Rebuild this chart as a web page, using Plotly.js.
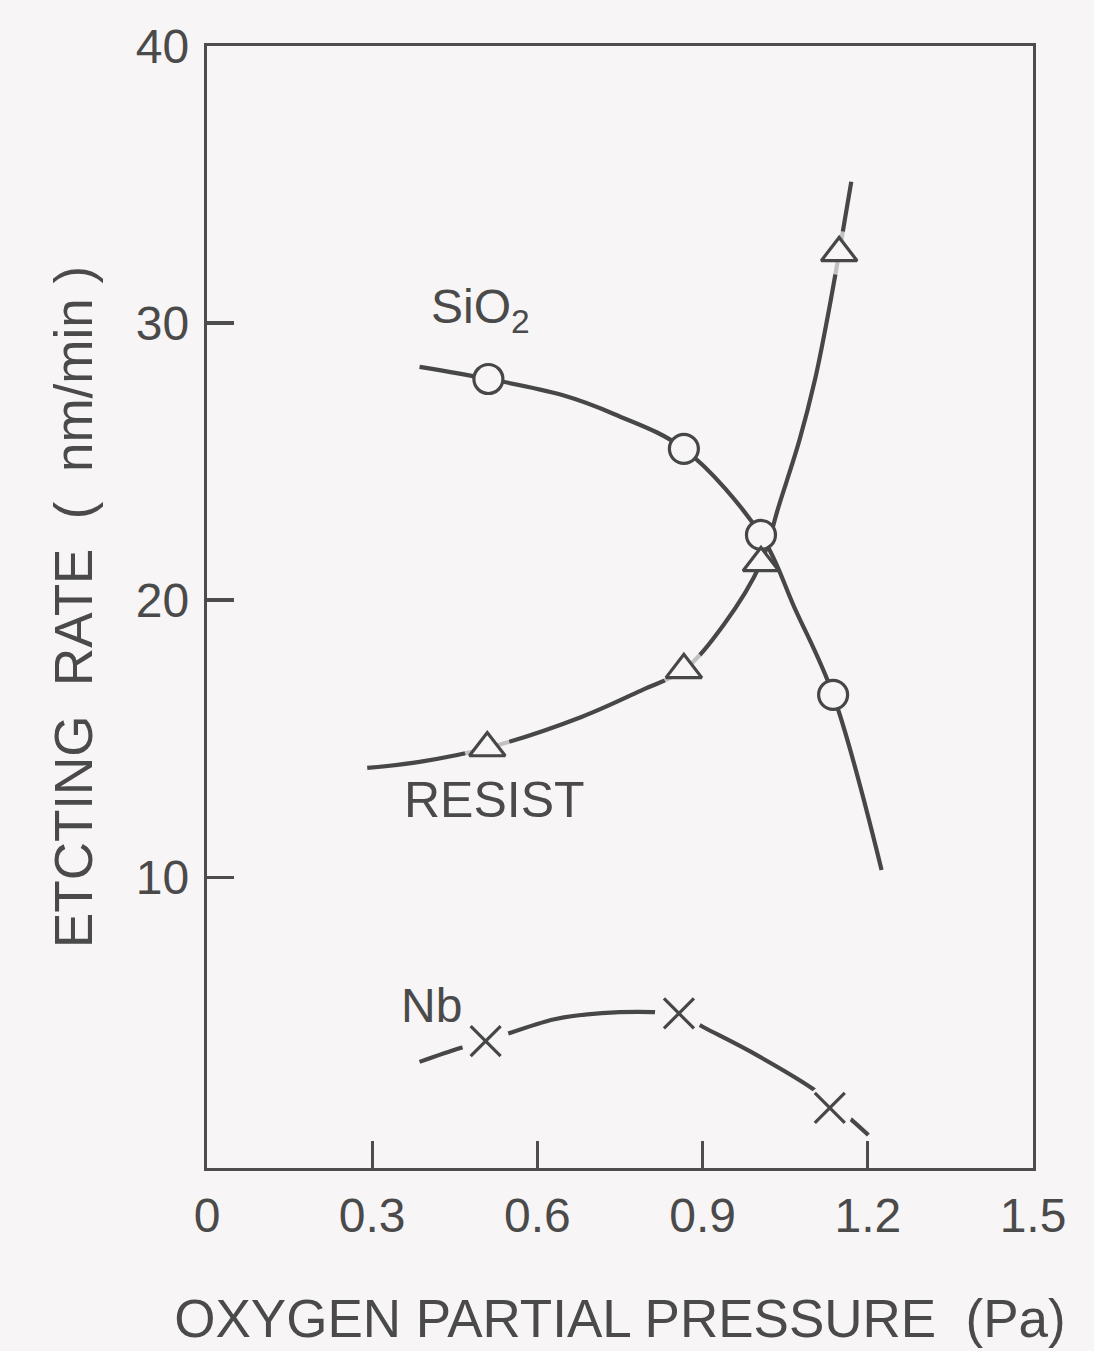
<!DOCTYPE html>
<html>
<head>
<meta charset="utf-8">
<script src="https://cdn.plot.ly/plotly-3.0.1.min.js"></script>
<style>
  html, body { margin: 0; padding: 0; background: #f7f5f5; }
  #chart { width: 1094px; height: 1351px; }
</style>
</head>
<body>
<div id="chart"></div>
<script>
// ---- data ----
// Oxygen partial pressure (Pa) / etching rate (nm/min)
const sio2CurveX = [0.386, 0.511, 0.645, 0.741, 0.866, 1.006, 1.067, 1.137, 1.225];
const sio2CurveY = [28.42, 27.98, 27.40, 26.70, 25.46, 22.35, 19.72, 16.58, 10.26];
const sio2PointsX = [0.511, 0.866, 1.006, 1.137];
const sio2PointsY = [27.98, 25.46, 22.35, 16.58];

const resistCurveX = [0.291, 0.386, 0.509, 0.680, 0.791, 0.866, 0.938, 1.006, 1.039, 1.076, 1.104, 1.126, 1.148, 1.170];
const resistCurveY = [13.94, 14.16, 14.66, 15.78, 16.76, 17.48, 19.10, 21.34, 23.44, 25.78, 27.95, 30.11, 32.53, 35.10];
const resistPointsX = [0.509, 0.866, 1.006, 1.148];
const resistPointsY = [14.66, 17.48, 21.34, 32.53];

const nbCurveX = [0.386, 0.460, 0.506, 0.631, 0.717, 0.809, 0.857, 0.901, 0.988, 1.098, 1.141, 1.201];
const nbCurveY = [3.33, 3.83, 4.08, 4.87, 5.09, 5.13, 5.06, 4.59, 3.69, 2.39, 1.74, 0.69];
const nbPointsX = [0.506, 0.857, 1.131];
const nbPointsY = [4.08, 5.08, 1.67];

const xTickVals = [0, 0.3, 0.6, 0.9, 1.2, 1.5];
const xTickText = ['0', '0.3', '0.6', '0.9', '1.2', '1.5'];
const yTickVals = [10, 20, 30, 40];
const yTickText = ['10', '20', '30', '40'];

const seriesLabels = ['SiO<sub>2</sub>', 'RESIST', 'Nb'];

// ---- styling ----
const BG = '#f7f5f5';
const INK = '#474747';
const TXT = '#4a4a4a';
const FONT = 'Liberation Sans, Arial, Helvetica, sans-serif';
const lineStyle = { color: INK, width: 4.2, shape: 'spline', smoothing: 1 };

const traces = [
  { x: resistCurveX, y: resistCurveY, mode: 'lines', line: lineStyle, hoverinfo: 'skip' },
  { x: resistPointsX, y: resistPointsY, mode: 'markers', hoverinfo: 'skip',
    marker: { symbol: 'circle', size: [46, 44, 0, 44], color: BG, line: { width: 0 } } },
  { x: sio2CurveX, y: sio2CurveY, mode: 'lines', line: lineStyle, hoverinfo: 'skip' },
  { x: nbCurveX, y: nbCurveY, mode: 'lines', line: lineStyle, hoverinfo: 'skip' },
  { x: nbPointsX, y: nbPointsY, mode: 'markers', hoverinfo: 'skip',
    marker: { symbol: 'circle', size: 48, color: BG, line: { width: 0 } } },
  { x: sio2PointsX, y: sio2PointsY, mode: 'markers', name: 'SiO2',
    marker: { symbol: 'circle', size: 29, color: BG, line: { color: INK, width: 3.2 } } },
  { x: resistPointsX, y: resistPointsY, mode: 'markers', name: 'RESIST',
    marker: { symbol: 'triangle-up', size: 31, color: BG, line: { color: INK, width: 3.2 } } },
  { x: nbPointsX, y: nbPointsY, mode: 'markers', name: 'Nb',
    marker: { symbol: 'x-thin-open', size: 30, color: INK, line: { color: INK, width: 3.2 } } }
];

const axisCommon = {
  showgrid: false, zeroline: false,
  showline: true, mirror: true, linecolor: '#4d4d4d', linewidth: 3.2,
  ticks: 'inside', ticklen: 27, tickwidth: 3.2, tickcolor: '#4d4d4d',
  tickfont: { family: FONT, size: 48, color: TXT },
  fixedrange: true
};

const NB = '\u00a0';

const layout = {
  width: 1094, height: 1351,
  paper_bgcolor: BG, plot_bgcolor: BG,
  showlegend: false,
  margin: { l: 207, r: 61, t: 46, b: 183 },
  xaxis: Object.assign({}, axisCommon, {
    range: [0, 1.5],
    tickmode: 'array', tickvals: xTickVals, ticktext: xTickText,
    ticklabelstandoff: 3,
    title: { text: 'OXYGEN PARTIAL PRESSURE' + NB + NB + '(Pa)', standoff: 60,
             font: { family: FONT, size: 53, color: TXT } }
  }),
  yaxis: Object.assign({}, axisCommon, {
    range: [-0.5, 40],
    tickmode: 'array', tickvals: yTickVals, ticktext: yTickText,
    ticklabelstandoff: 5,
    title: { text: 'ETCTING' + NB + NB + 'RATE' + NB + NB + '(' + NB + NB + 'nm/min' + NB + ')', standoff: 27,
             font: { family: FONT, size: 53, color: TXT } }
  }),
  annotations: [
    { x: 0.496, y: 30.47, xref: 'x', yref: 'y', text: seriesLabels[0], showarrow: false,
      font: { family: FONT, size: 48, color: TXT } },
    { x: 0.522, y: 12.79, xref: 'x', yref: 'y', text: seriesLabels[1], showarrow: false,
      font: { family: FONT, size: 50, color: TXT } },
    { x: 0.408, y: 5.38, xref: 'x', yref: 'y', text: seriesLabels[2], showarrow: false,
      font: { family: FONT, size: 48, color: TXT } }
  ]
};

Plotly.newPlot('chart', traces, layout, { displayModeBar: false, staticPlot: true });
</script>
</body>
</html>
